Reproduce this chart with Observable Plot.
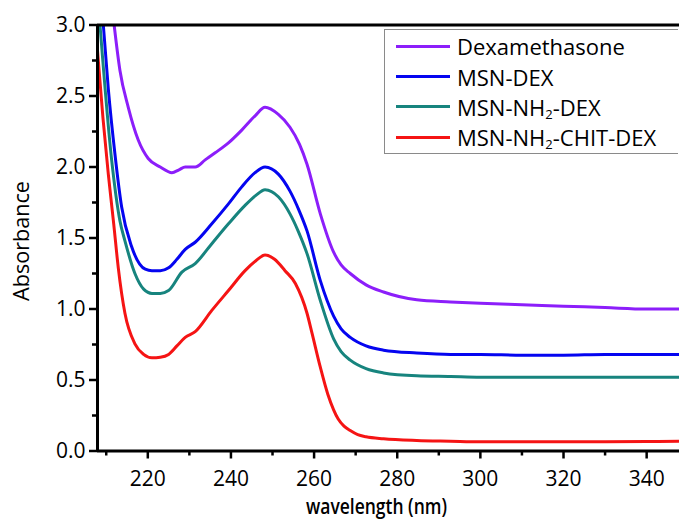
<!DOCTYPE html>
<html>
<head>
<meta charset="utf-8">
<script src="https://cdn.jsdelivr.net/npm/d3@7"></script>
<script src="https://cdn.jsdelivr.net/npm/@observablehq/plot@0.6"></script>
<style>
  html, body { margin: 0; padding: 0; background: #fff; }
  #wrap { position: relative; width: 679px; height: 520px; overflow: hidden; font-family: "Open Sans", sans-serif; }
  #legend { position: absolute; left: 384px; top: 29px; width: 294px; height: 125px; border: 1.5px solid #8a8a8a; border-right: none; box-sizing: border-box; background: #fff; padding-top: 1px; }
  .row { display: flex; align-items: center; height: 30.4px; }
  .sw { width: 54px; height: 3px; margin-left: 11px; margin-right: 7px; }
  .lab { font-size: 22px; color: #000; line-height: 1; white-space: nowrap; }
  .lab sub { font-size: 13px; vertical-align: -3px; line-height: 0; }
</style>
</head>
<body>
<div id="wrap"></div>
<script>
// ---- data ----
const seriesNames = ["Dexamethasone", "MSN-DEX", "MSN-NH2-DEX", "MSN-NH2-CHIT-DEX"];
const seriesColors = ["#8c1efa", "#0505f0", "#17847e", "#f51414"];

const dexNm  = [211.9, 213.3, 215.3, 217.7, 220.1, 223.0, 225.8, 227.5, 229.0, 231.4, 233.8, 236.2, 239.4, 242.6, 245.8, 248.2, 251.4, 254.2, 256.5, 258.3, 261.5, 264.7, 266.5, 268.7, 272.5, 276.7, 284.7, 292.8, 300, 310, 320, 330, 340, 347.9];
const dexAbs = [3.0, 2.68, 2.42, 2.19, 2.06, 2.0, 1.96, 1.98, 2.0, 2.0, 2.05, 2.10, 2.17, 2.26, 2.36, 2.42, 2.37, 2.28, 2.16, 2.02, 1.67, 1.40, 1.31, 1.25, 1.17, 1.12, 1.065, 1.05, 1.04, 1.03, 1.02, 1.01, 1.0, 1.0];

const msnNm  = [209.3, 210.5, 212.1, 213.7, 216.1, 219.4, 221.0, 223.0, 225.0, 227.0, 229.0, 231.4, 235.4, 239.4, 242.6, 245.8, 248.2, 251.4, 254.2, 256.3, 258.3, 261.5, 264.7, 266.5, 268.7, 272.5, 276.7, 284.7, 292.8, 300, 310, 320, 330, 340, 347.9];
const msnAbs = [3.0, 2.55, 2.09, 1.72, 1.44, 1.28, 1.27, 1.27, 1.29, 1.35, 1.42, 1.47, 1.60, 1.74, 1.86, 1.96, 2.0, 1.95, 1.83, 1.70, 1.55, 1.20, 0.95, 0.86, 0.80, 0.74, 0.71, 0.69, 0.68, 0.68, 0.675, 0.675, 0.68, 0.68, 0.68];

const nh2Nm  = [208.5, 211.3, 213.3, 214.5, 216.9, 219.0, 221.0, 223.0, 225.0, 228.2, 231.4, 235.4, 239.4, 243.4, 246.0, 248.2, 251.4, 254.2, 256.3, 258.3, 261.5, 264.7, 266.5, 268.7, 272.5, 276.7, 284.7, 292.8, 300, 310, 320, 330, 340, 347.9];
const nh2Abs = [3.0, 2.05, 1.62, 1.48, 1.25, 1.14, 1.11, 1.11, 1.13, 1.26, 1.32, 1.46, 1.60, 1.73, 1.80, 1.84, 1.79, 1.67, 1.54, 1.39, 1.06, 0.79, 0.70, 0.64, 0.58, 0.55, 0.53, 0.525, 0.52, 0.52, 0.52, 0.52, 0.52, 0.52];

const chitNm  = [207.9, 209.2, 210.5, 211.8, 212.9, 214.5, 216.9, 219.0, 221.0, 223.0, 225.0, 227.0, 229.0, 231.4, 235.4, 239.4, 243.4, 246.0, 248.2, 250.5, 253.0, 255.5, 258.3, 259.5, 261.5, 263.3, 264.7, 265.8, 267.2, 268.7, 270.5, 272.5, 276.7, 284.7, 292.8, 300, 310, 320, 330, 340, 347.9];
const chitAbs = [2.82, 2.35, 1.95, 1.6, 1.29, 0.97, 0.755, 0.68, 0.656, 0.66, 0.68, 0.74, 0.80, 0.84, 0.99, 1.13, 1.27, 1.34, 1.38, 1.35, 1.27, 1.18, 0.97, 0.83, 0.59, 0.40, 0.29, 0.225, 0.175, 0.144, 0.115, 0.10, 0.086, 0.074, 0.069, 0.065, 0.066, 0.065, 0.066, 0.067, 0.068];

const xMajorTicks = [220, 240, 260, 280, 300, 320, 340];
const xMinorTicks = [210, 230, 250, 270, 290, 310, 330];
const yMajorTicks = [0, 0.5, 1.0, 1.5, 2.0, 2.5, 3.0];
const yMinorTicks = [0.25, 0.75, 1.25, 1.75, 2.25, 2.75];
const xDomain = [207.9, 347.9];
const yDomain = [0, 3];
const xLabel = "wavelength (nm)";
const yLabel = "Absorbance";

// ---- build rows ----
const nmArrays = [dexNm, msnNm, nh2Nm, chitNm];
const absArrays = [dexAbs, msnAbs, nh2Abs, chitAbs];
const rows = [];
seriesNames.forEach((name, i) => {
  nmArrays[i].forEach((nm, j) => rows.push({series: name, nm, abs: absArrays[i][j]}));
});

const font = "'Open Sans', sans-serif";

const chart = Plot.plot({
  width: 679,
  height: 520,
  marginLeft: 97,
  marginRight: 0,
  marginTop: 24.5,
  marginBottom: 69.5,
  style: {fontFamily: font, background: "#fff", color: "#000", overflow: "visible"},
  x: {domain: xDomain},
  y: {domain: yDomain},
  color: {domain: seriesNames, range: seriesColors},
  marks: [
    Plot.line(rows, {x: "nm", y: "abs", z: "series", stroke: "series", strokeWidth: 3, curve: "monotone-x", clip: true}),
    // frame lines
    Plot.ruleX([xDomain[0]], {stroke: "#000", strokeWidth: 3}),
    Plot.ruleY([yDomain[0]], {stroke: "#000", strokeWidth: 3}),
    Plot.ruleY([yDomain[1]], {stroke: "#000", strokeWidth: 3}),
    // axes
    Plot.axisX({ticks: xMajorTicks, tickSize: 8, tickPadding: 12, fontSize: 21, strokeWidth: 2.5, label: null, tickFormat: d => String(d)}),
    Plot.axisX({ticks: xMinorTicks, tickSize: 5, strokeWidth: 2.5, label: null, tickFormat: () => ""}),
    Plot.axisY({ticks: yMajorTicks, tickSize: 8, tickPadding: 4, fontSize: 21, strokeWidth: 2.5, label: null, tickFormat: d => d.toFixed(1)}),
    Plot.axisY({ticks: yMinorTicks, tickSize: 5, strokeWidth: 2.5, label: null, tickFormat: () => ""}),
    // axis titles
    Plot.text([xLabel], {frameAnchor: "bottom", dx: -12, dy: 55.5, fontSize: 22, fontWeight: 600, textAnchor: "middle", lineAnchor: "middle"}),
    Plot.text([yLabel], {frameAnchor: "left", dx: -75, dy: 3, fontSize: 21, rotate: -90, textAnchor: "middle", lineAnchor: "middle"})
  ]
});

// narrow the axis titles to the reference's (condensed) widths
d3.select(chart).selectAll("text").each(function () {
  const t = this.textContent;
  if (t === xLabel) d3.select(this).attr("textLength", 141).attr("lengthAdjust", "spacingAndGlyphs");
  if (t === yLabel) d3.select(this).attr("textLength", 120).attr("lengthAdjust", "spacingAndGlyphs");
});

const wrap = document.getElementById("wrap");
wrap.appendChild(chart);

const legend = document.createElement("div");
legend.id = "legend";
seriesNames.forEach((name, i) => {
  const row = document.createElement("div");
  row.className = "row";
  const sw = document.createElement("div");
  sw.className = "sw";
  sw.style.background = seriesColors[i];
  const lab = document.createElement("span");
  lab.className = "lab";
  lab.innerHTML = name.replace("NH2", "NH<sub>2</sub>");
  row.appendChild(sw);
  row.appendChild(lab);
  legend.appendChild(row);
});
wrap.appendChild(legend);
</script>
</body>
</html>
